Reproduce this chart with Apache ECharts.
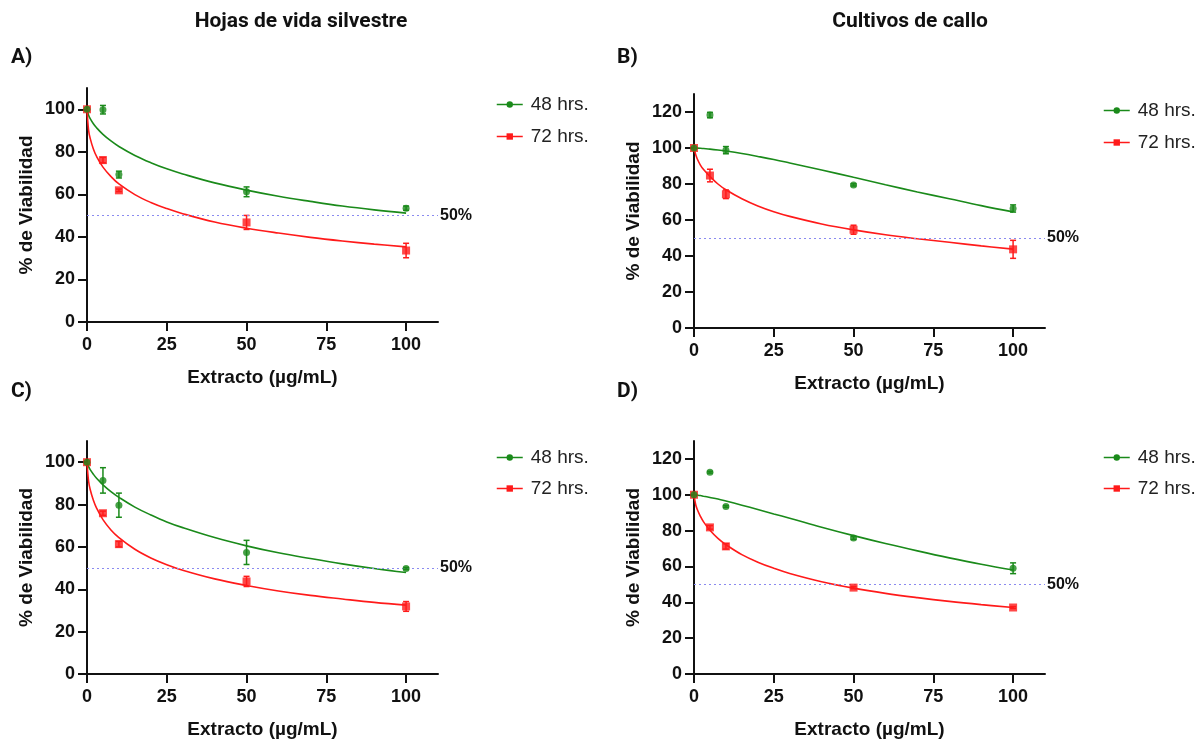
<!DOCTYPE html>
<html>
<head>
<meta charset="utf-8">
<script src="https://cdn.jsdelivr.net/npm/echarts@6/dist/echarts.min.js"></script>
<style>
  html, body { margin: 0; padding: 0; background: #fff; }
  #chart { width: 1202px; height: 740px; }
</style>
</head>
<body>
<div id="chart"></div>
<script>
// concentrations tested (µg/mL)
const doses = [0, 5, 10, 50, 100]

// A) Hojas de vida silvestre, set 1
const a48 = [100, 99.8, 69.3, 61.2, 53.5]
const a48Err = [0, 2, 1.6, 2.3, 1]
const a72 = [100, 76.1, 61.9, 46.8, 33.6]
const a72Err = [0, 1.3, 0.6, 3.3, 3.4]
// B) Cultivos de callo, set 1
const b48 = [100, 118.3, 98.8, 79.5, 66.4]
const b48Err = [0, 1.5, 2, 0.6, 2]
const b72 = [100, 84.7, 74.3, 54.6, 43.7]
const b72Err = [0, 3.5, 2.4, 2.5, 5]
// C) Hojas de vida silvestre, set 2
const c48 = [100, 91.4, 79.7, 57.4, 49.8]
const c48Err = [0, 6, 5.7, 5.7, 0.5]
const c72 = [100, 75.9, 61.3, 43.7, 31.9]
const c72Err = [0, 1, 1.3, 2.4, 2.3]
// D) Cultivos de callo, set 2
const d48 = [100, 112.6, 93.5, 75.9, 59]
const d48Err = [0, 0.5, 0.5, 0.8, 3]
const d72 = [100, 81.8, 71.2, 48.2, 37.1]
const d72Err = [0, 1, 1.5, 0.6, 0.5]

// fitted curves at these x
const fitX = [0, 0.5, 1, 2, 3, 5, 7.5, 10, 15, 20, 25, 30, 40, 50, 60, 70, 80, 90, 100]
const a48Fit = [100, 97.2, 95.6, 93.2, 91.3, 88.2, 85.1, 82.5, 78.3, 74.9, 72.0, 69.6, 65.4, 62.0, 59.1, 56.7, 54.5, 52.7, 51.2]
const a72Fit = [100, 90.1, 86.3, 81.3, 77.8, 72.8, 68.4, 64.9, 59.9, 56.2, 53.3, 50.9, 47.0, 44.1, 41.8, 39.8, 38.1, 36.6, 35.3]
const b48Fit = [100, 99.98, 99.95, 99.85, 99.7, 99.4, 98.9, 98.3, 96.9, 95.3, 93.6, 91.7, 87.8, 83.7, 79.6, 75.6, 71.8, 68.0, 64.5]
const b72Fit = [100, 96.5, 94, 90.5, 88, 84.2, 80, 76.8, 71.8, 67.8, 64.6, 62, 57.8, 54.5, 51.8, 49.6, 47.6, 45.6, 43.8]
const c48Fit = [100, 97.9, 96.5, 94.3, 92.4, 89.3, 86.1, 83.4, 78.8, 75.1, 71.8, 69.1, 64.4, 60.5, 57.2, 54.5, 52.0, 49.8, 47.9]
const c72Fit = [100, 91.0, 87.1, 82.0, 78.3, 72.9, 68.0, 64.4, 58.9, 54.8, 51.6, 49.0, 44.9, 41.8, 39.2, 37.1, 35.4, 33.8, 32.5]
const d48Fit = [100, 99.9, 99.8, 99.55, 99.2, 98.5, 97.6, 96.5, 94.2, 91.8, 89.3, 86.9, 81.9, 77.2, 72.8, 68.7, 64.8, 61.2, 58.0]
const d72Fit = [100, 94.7, 91.9, 88.0, 84.9, 80.2, 75.7, 72.2, 66.6, 62.4, 59.0, 56.1, 51.5, 47.9, 45.0, 42.6, 40.5, 38.7, 37.1]

const xTicks = [0, 25, 50, 75, 100]
const yTicksShort = [0, 20, 40, 60, 80, 100]
const yTicksTall = [0, 20, 40, 60, 80, 100, 120]

const green = '#1a8a1a'
const red = '#ff1a1a'
const ink = '#111'

const panels = [
  { grid: { left: 87, top: 88, width: 351, height: 234 }, yMax: 110, yTicks: yTicksShort,
    p48: a48, e48: a48Err, p72: a72, e72: a72Err, f48: a48Fit, f72: a72Fit, legendTop: 90, legendGap: 13 },
  { grid: { left: 694, top: 94, width: 351, height: 234 }, yMax: 130, yTicks: yTicksTall,
    p48: b48, e48: b48Err, p72: b72, e72: b72Err, f48: b48Fit, f72: b72Fit, legendTop: 96, legendGap: 13 },
  { grid: { left: 87, top: 441, width: 351, height: 233 }, yMax: 110, yTicks: yTicksShort,
    p48: c48, e48: c48Err, p72: c72, e72: c72Err, f48: c48Fit, f72: c72Fit, legendTop: 443, legendGap: 12 },
  { grid: { left: 694, top: 441, width: 351, height: 234 }, yMax: 130, yTicks: yTicksTall,
    p48: d48, e48: d48Err, p72: d72, e72: d72Err, f48: d48Fit, f72: d72Fit, legendTop: 443, legendGap: 12 }
]

function zip(xs, ys) {
  return xs.map((x, i) => [x, ys[i]])
}

function errData(ys, es) {
  return doses.map((x, i) => [x, ys[i], es[i]])
}

function renderErr(color) {
  return function(params, api) {
    const x = api.value(0)
    const y = api.value(1)
    const e = api.value(2)
    if (!e) return
    const top = api.coord([x, y + e])
    const bot = api.coord([x, y - e])
    const style = { stroke: color, lineWidth: 1.5 }
    return {
      type: 'group',
      children: [
        { type: 'line', shape: { x1: top[0], y1: top[1], x2: bot[0], y2: bot[1] }, style },
        { type: 'line', shape: { x1: top[0] - 3, y1: top[1], x2: top[0] + 3, y2: top[1] }, style },
        { type: 'line', shape: { x1: bot[0] - 3, y1: bot[1], x2: bot[0] + 3, y2: bot[1] }, style }
      ]
    }
  }
}

const labelFont = { fontFamily: 'Liberation Sans', fontWeight: 'bold', color: ink }

const grids = []
const xAxes = []
const yAxes = []
const legends = []
const series = []

panels.forEach((p, i) => {
  grids.push(p.grid)
  xAxes.push({
    gridIndex: i, type: 'value', min: 0, max: 110,
    name: 'Extracto (µg/mL)', nameLocation: 'middle', nameGap: 46,
    nameTextStyle: { ...labelFont, fontSize: 19 },
    axisLine: { lineStyle: { color: ink, width: 2 } },
    axisTick: { length: 9, lineStyle: { color: ink, width: 2 }, customValues: xTicks },
    axisLabel: { ...labelFont, fontSize: 18, margin: 14, customValues: xTicks },
    splitLine: { show: false }
  })
  yAxes.push({
    gridIndex: i, type: 'value', min: 0, max: p.yMax,
    name: '% de Viabilidad', nameLocation: 'middle', nameGap: 51,
    nameTextStyle: { ...labelFont, fontSize: 19 },
    axisLine: { show: true, lineStyle: { color: ink, width: 2 } },
    axisTick: { show: true, length: 9, lineStyle: { color: ink, width: 2 }, customValues: p.yTicks },
    axisLabel: { ...labelFont, fontSize: 18, margin: 12, customValues: p.yTicks },
    splitLine: { show: false }
  })
  legends.push({
    data: ['48 hrs.', '72 hrs.'],
    left: p.grid.left + p.grid.width + 53, top: p.legendTop,
    orient: 'vertical', itemWidth: 26, itemHeight: 8, itemGap: p.legendGap,
    selectedMode: false,
    lineStyle: { width: 1.5 },
    textStyle: { fontFamily: 'Liberation Sans', fontSize: 19, color: '#222', padding: [0, 0, 0, 3] }
  })
  series.push(
    {
      name: '48 hrs.', type: 'line', xAxisIndex: i, yAxisIndex: i,
      data: zip(fitX, p.f48), smooth: 0.4, symbol: 'circle', symbolSize: 7, showSymbol: false,
      color: green, lineStyle: { width: 1.6, color: green }, z: 3,
      markLine: {
        silent: true, symbol: 'none',
        lineStyle: { type: [2, 3], color: '#8a8af0', width: 1.2 },
        label: { position: 'end', formatter: '50%', distance: 2, ...labelFont, fontSize: 16 },
        data: [{ yAxis: 50 }]
      }
    },
    {
      name: '72 hrs.', type: 'line', xAxisIndex: i, yAxisIndex: i,
      data: zip(fitX, p.f72), smooth: 0.4, symbol: 'rect', symbolSize: 7, showSymbol: false,
      color: red, lineStyle: { width: 1.6, color: red }, z: 3
    },
    {
      name: '72 hrs.', type: 'custom', xAxisIndex: i, yAxisIndex: i,
      data: errData(p.p72, p.e72), renderItem: renderErr(red), encode: { x: 0, y: 1 }, z: 4
    },
    {
      name: '48 hrs.', type: 'custom', xAxisIndex: i, yAxisIndex: i,
      data: errData(p.p48, p.e48), renderItem: renderErr(green), encode: { x: 0, y: 1 }, z: 4
    },
    {
      name: '72 hrs.', type: 'scatter', xAxisIndex: i, yAxisIndex: i,
      data: zip(doses, p.p72), symbol: 'rect', symbolSize: 8, color: red, z: 5
    },
    {
      name: '48 hrs.', type: 'scatter', xAxisIndex: i, yAxisIndex: i,
      data: zip(doses, p.p48), symbol: 'circle', symbolSize: 7, color: green, z: 6
    }
  )
})

const headFont = { fontFamily: 'Roboto', fontWeight: 'bold', fill: '#111' }

const chart = echarts.init(document.getElementById('chart'))
chart.setOption({
  backgroundColor: '#fff',
  animation: false,
  grid: grids,
  xAxis: xAxes,
  yAxis: yAxes,
  legend: legends,
  series: series,
  graphic: [
    { type: 'text', x: 301, y: 22, style: { text: 'Hojas de vida silvestre', ...headFont, fontSize: 21, align: 'center', verticalAlign: 'middle' } },
    { type: 'text', x: 910, y: 22, style: { text: 'Cultivos de callo', ...headFont, fontSize: 21, align: 'center', verticalAlign: 'middle' } },
    { type: 'text', x: 11, y: 58, style: { text: 'A)', ...headFont, fontSize: 21, verticalAlign: 'middle' } },
    { type: 'text', x: 617, y: 58, style: { text: 'B)', ...headFont, fontSize: 21, verticalAlign: 'middle' } },
    { type: 'text', x: 11, y: 392, style: { text: 'C)', ...headFont, fontSize: 21, verticalAlign: 'middle' } },
    { type: 'text', x: 617, y: 392, style: { text: 'D)', ...headFont, fontSize: 21, verticalAlign: 'middle' } }
  ]
})
</script>
</body>
</html>
